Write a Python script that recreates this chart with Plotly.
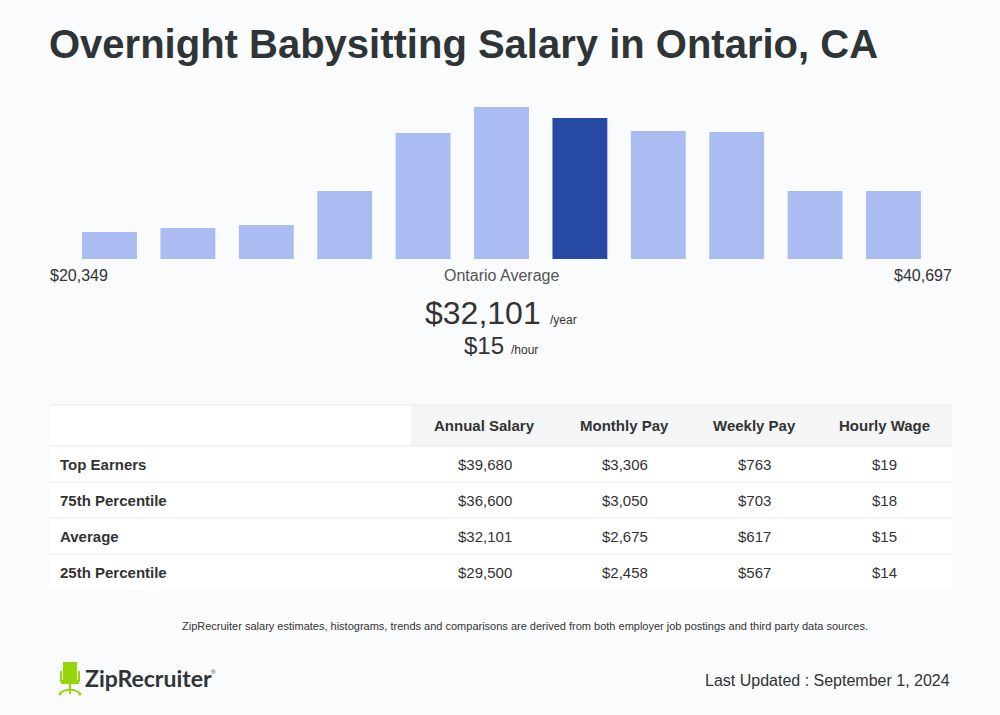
import plotly.graph_objects as go

W, H = 1000, 715

# ---------------- data ----------------
title = "Overnight Babysitting Salary in Ontario, CA"
bins = list(range(11))
bin_counts = [27, 31, 34, 68, 126, 152, 141, 128, 127, 68, 68]
highlight_bin = 6
range_low = "$20,349"
range_high = "$40,697"
avg_label = "Ontario Average"
avg_year = "$32,101"
avg_hour = "$15"

table_columns = ["Annual Salary", "Monthly Pay", "Weekly Pay", "Hourly Wage"]
table_rows = ["Top Earners", "75th Percentile", "Average", "25th Percentile"]
annual = ["$39,680", "$36,600", "$32,101", "$29,500"]
monthly = ["$3,306", "$3,050", "$2,675", "$2,458"]
weekly = ["$763", "$703", "$617", "$567"]
hourly = ["$19", "$18", "$15", "$14"]

footnote = ("ZipRecruiter salary estimates, histograms, trends and comparisons are derived "
            "from both employer job postings and third party data sources.")
updated = "Last Updated : September 1, 2024"

# ---------------- helpers ----------------
def px(x):
    return x / W

def py(y):
    return 1 - y / H

BG = "#fafbfd"
DARK = "#2f3437"
TXT = "#333333"
FONT = "Liberation Sans, Arial, sans-serif"

light = "#aabcf1"
dark = "#264aa3"
colors = [dark if i == highlight_bin else light for i in bins]

fig = go.Figure()
fig.add_trace(go.Bar(
    x=bins, y=bin_counts, marker=dict(color=colors, line=dict(width=0)),
    hoverinfo="skip", showlegend=False,
))

fig.update_layout(
    width=W, height=H,
    margin=dict(l=0, r=0, t=0, b=0),
    paper_bgcolor=BG, plot_bgcolor=BG,
    bargap=0.3,
    xaxis=dict(domain=[px(70.3), px(932.7)], range=[-0.5, 10.5], visible=False, fixedrange=True),
    yaxis=dict(domain=[py(259), py(99)], range=[0, 160], visible=False, fixedrange=True),
    font=dict(family=FONT, color=TXT),
)

shapes = []
ann = []

PAD = 2  # annotation box padding compensation

def text(x, y, s, size, color=TXT, bold=False, xanchor="left", family=FONT):
    if bold:
        s = "<b>" + s + "</b>"
    if xanchor == "left":
        x -= PAD
    elif xanchor == "right":
        x += PAD
    ann.append(dict(x=px(x), y=py(y), xref="paper", yref="paper", text=s, showarrow=False,
                    xanchor=xanchor, yanchor="middle",
                    font=dict(size=size, color=color, family=family)))

# title
text(49, 44, title, 40, DARK, bold=True)

# range / average labels
text(50, 275, range_low, 16, TXT)
text(501, 275, avg_label, 16, "#555555", xanchor="center")
text(952, 275, range_high, 16, TXT, xanchor="right")
text(483, 313, avg_year, 32, TXT, xanchor="center")
text(550, 320, "/year", 12, TXT)
text(484, 345, avg_hour, 24, TXT, xanchor="center")
text(511, 350, "/hour", 12, TXT)

# table
tx0, tx1 = 50, 952
col_edges = [411, 558, 691, 817, 952]
row_edges = [405, 446, 482, 518, 554, 590]
LINE = "#e6e8eb"
shapes.append(dict(type="rect", xref="paper", yref="paper", x0=px(tx0), x1=px(tx1),
                   y0=py(row_edges[-1]), y1=py(row_edges[0]), fillcolor="#ffffff",
                   line=dict(width=0), layer="below"))
shapes.append(dict(type="rect", xref="paper", yref="paper", x0=px(col_edges[0]), x1=px(tx1),
                   y0=py(row_edges[1]), y1=py(row_edges[0]), fillcolor="#f3f5f7",
                   line=dict(width=0), layer="below"))
for ry in row_edges[:-1]:
    shapes.append(dict(type="line", xref="paper", yref="paper", x0=px(tx0), x1=px(tx1),
                       y0=py(ry), y1=py(ry), line=dict(color=LINE, width=1), layer="below"))

col_centers = [(col_edges[i] + col_edges[i + 1]) / 2 for i in range(4)]
hy = (row_edges[0] + row_edges[1]) / 2
for c, name in zip(col_centers, table_columns):
    text(c, hy, name, 15, TXT, bold=True, xanchor="center")
columns_data = [annual, monthly, weekly, hourly]
for r, label in enumerate(table_rows):
    cy = (row_edges[r + 1] + row_edges[r + 2]) / 2
    text(60, cy, label, 15, TXT, bold=True)
    for c, col in zip(col_centers, columns_data):
        text(c, cy, col[r], 15, TXT, xanchor="center")

# footnote
text(525, 626, footnote, 11, TXT, xanchor="center")
text(950, 680, updated, 16, TXT, xanchor="right")

# logo: chair icon
G = "#94d60a"
def rect(x0, y0, x1, y1, color=G):
    shapes.append(dict(type="rect", xref="paper", yref="paper", x0=px(x0), x1=px(x1),
                       y0=py(y1), y1=py(y0), fillcolor=color, line=dict(width=0)))
rect(63, 662, 77, 680)          # backrest
rect(60, 671, 62, 682)          # left arm
rect(78, 671, 80, 682)          # right arm
rect(61, 680, 79, 684)          # seat
rect(69, 684, 71, 694)          # stem
shapes.append(dict(type="path", xref="paper", yref="paper",
                   path=f"M {px(60)},{py(693)} Q {px(70)},{py(686)} {px(80)},{py(693)}",
                   line=dict(color=G, width=2)))
for cx in (60, 80):
    shapes.append(dict(type="circle", xref="paper", yref="paper", x0=px(cx - 1.5), x1=px(cx + 1.5),
                       y0=py(695.5), y1=py(692.5), fillcolor=G, line=dict(width=0)))
text(85, 678, "ZipRecruiter", 23, DARK, bold=True, family="Lato, sans-serif")
text(211, 672, "®", 6, DARK)

fig.update_layout(shapes=shapes, annotations=ann)
fig.write_html("out.html")
